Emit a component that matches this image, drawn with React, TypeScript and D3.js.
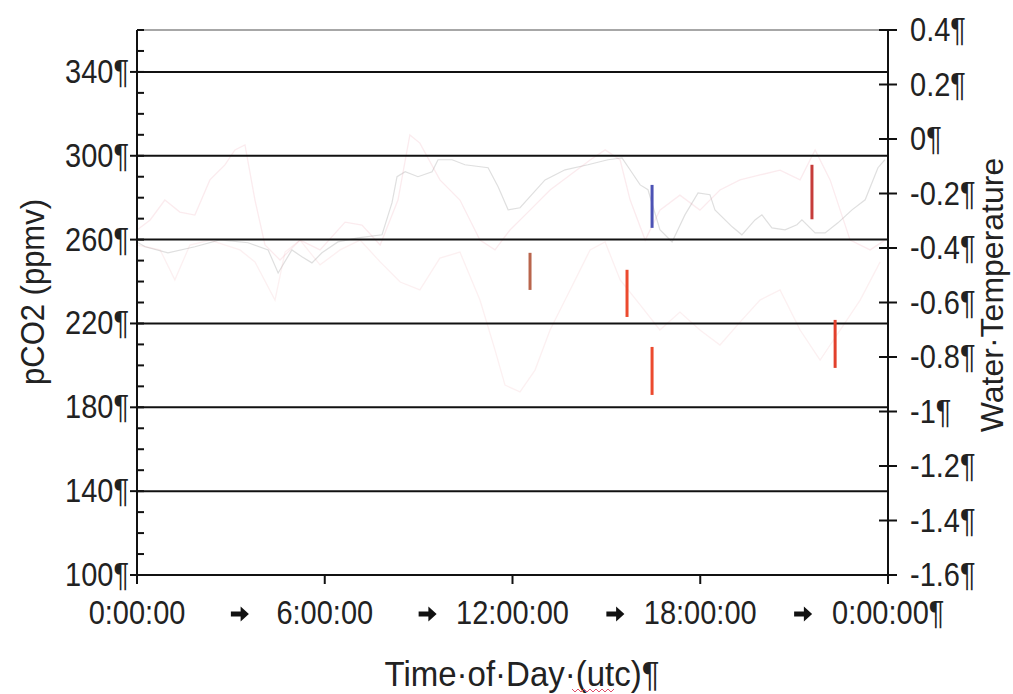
import React, { useEffect, useRef } from 'react';
import * as d3 from 'd3';

const width = 1013;
const height = 694;
const margin = { top: 30, right: 125, bottom: 119, left: 137 };

// pCO2 trace, hours of day vs ppmv
const co2Hours = [0, 0.26, 0.99, 1.85, 2.65, 3.55, 4.19, 4.51, 4.95, 5.27, 5.59, 5.91, 6.42, 7.06, 7.83, 8.15, 8.31, 8.57, 8.98, 9.43, 9.62, 10.07, 10.48, 11.22, 11.54, 11.86, 12.24, 13.04, 13.68, 14.41, 15.05, 15.5, 15.82, 16.08, 16.33, 16.71, 17.1, 17.51, 17.93, 18.31, 18.47, 19.02, 19.33, 19.75, 19.97, 20.29, 20.71, 21.09, 21.25, 21.67, 21.99, 22.4, 22.85, 23.27, 23.68, 23.9];
const co2Values = [258.9, 256.6, 253.7, 256.6, 259.9, 258.5, 255.1, 244.1, 255.1, 251.8, 248.9, 253.7, 258.9, 260.8, 262.3, 277.6, 290.0, 292.4, 290.0, 292.4, 298.1, 298.1, 295.7, 294.3, 285.2, 274.2, 275.2, 288.5, 293.3, 295.7, 298.1, 299.0, 291.9, 286.1, 283.8, 264.7, 258.9, 271.8, 282.3, 281.4, 274.2, 266.1, 262.3, 269.4, 271.8, 265.6, 264.7, 267.1, 269.4, 263.2, 263.2, 268.0, 274.2, 279.0, 294.3, 298.1];

// water temperature traces (faint), hours vs degrees
const tempHoursA = [0, 0.42, 0.89, 1.37, 1.85, 2.33, 2.81, 3.13, 3.45, 3.77, 4.09, 4.57, 5.21, 5.85, 6.65, 7.19, 7.77, 8.34, 8.72, 9.04, 9.68, 10.32, 10.96, 11.44, 11.92, 12.56, 13.2, 13.84, 14.48, 14.96, 15.44, 15.76, 16.24, 16.71, 17.35, 17.99, 18.63, 19.27, 19.91, 20.55, 21.19, 21.67, 22.15, 22.79, 23.43, 23.9];
const tempValuesA = [-0.334, -0.297, -0.224, -0.268, -0.279, -0.15, -0.095, -0.04, -0.022, -0.224, -0.389, -0.444, -0.371, -0.407, -0.305, -0.316, -0.389, -0.224, 0.015, -0.015, -0.15, -0.224, -0.371, -0.407, -0.334, -0.261, -0.187, -0.132, -0.077, -0.04, -0.077, -0.224, -0.371, -0.261, -0.206, -0.261, -0.187, -0.15, -0.132, -0.114, -0.15, -0.04, -0.15, -0.371, -0.407, -0.371];
const tempHoursB = [0, 0.74, 1.21, 1.69, 2.33, 3.29, 3.77, 4.41, 4.73, 5.21, 5.85, 6.49, 7.13, 7.77, 8.41, 9.04, 9.68, 10.32, 10.96, 11.44, 11.76, 12.24, 12.72, 13.2, 13.84, 14.48, 14.96, 15.44, 16.08, 16.71, 17.35, 17.99, 18.63, 19.27, 19.91, 20.55, 21.19, 21.83, 22.47, 23.11, 23.75];
const tempValuesB = [-0.389, -0.407, -0.517, -0.389, -0.371, -0.407, -0.451, -0.591, -0.415, -0.371, -0.462, -0.407, -0.371, -0.451, -0.525, -0.554, -0.437, -0.415, -0.591, -0.774, -0.903, -0.928, -0.848, -0.701, -0.554, -0.407, -0.378, -0.517, -0.609, -0.701, -0.635, -0.701, -0.756, -0.672, -0.591, -0.554, -0.701, -0.811, -0.701, -0.591, -0.451];

// highlighted spikes, hours vs ppmv range
const spikeHours = [12.56, 15.66, 16.46, 22.31, 16.46, 21.57];
const spikeLow = [236.0, 223.1, 185.9, 198.8, 265.6, 269.7];
const spikeHigh = [253.7, 245.6, 208.8, 221.7, 286.1, 295.7];
const spikeColors = ['#b9654c', '#ec4a2e', '#ec4a2e', '#e2402c', '#4c52b4', '#c63c3a'];

const timeTicks = [0, 6, 12, 18, 24];
const timeLabels = ['0:00:00', '6:00:00', '12:00:00', '18:00:00', '0:00:00¶'];
const co2Major = [100, 140, 180, 220, 260, 300, 340];
const tempTicks = [0.4, 0.2, 0, -0.2, -0.4, -0.6, -0.8, -1, -1.2, -1.4, -1.6];

const font = '"Liberation Sans", Arial, sans-serif';
const labelSize = 29;
const stretch = 1.15; // the source text is a bit taller than wide

const App = () => {
  const ref = useRef<SVGSVGElement>(null);

  useEffect(() => {
    const svg = d3.select(ref.current);
    svg.selectAll('*').remove();

    const x = d3.scaleLinear([0, 24], [margin.left, width - margin.right]);
    const yL = d3.scaleLinear([100, 360], [height - margin.bottom, margin.top]);
    const yR = d3.scaleLinear([-1.6, 0.4], [height - margin.bottom, margin.top]);

    // text helper: positioned by transform so it can be stretched
    function label(g, px, py, txt, anchor = 'start', size = labelSize, rot = 0, sy = stretch) {
      return g.append('text')
        .attr('transform', `translate(${px},${py}) rotate(${rot}) scale(1,${sy})`)
        .attr('text-anchor', anchor)
        .attr('font-family', font).attr('font-size', size).attr('fill', '#222')
        .text(txt);
    }

    svg.append('rect').attr('width', width).attr('height', height).attr('fill', 'white');

    // faint traces
    const lineL = d3.line<number>().x((d, i) => x(co2Hours[i])).y(d => yL(d));
    svg.append('path').attr('d', lineL(co2Values)).attr('fill', 'none')
      .attr('stroke', '#9a9a9a').attr('stroke-opacity', 0.32).attr('stroke-width', 1.2);

    const lineA = d3.line<number>().x((d, i) => x(tempHoursA[i])).y(d => yR(d));
    svg.append('path').attr('d', lineA(tempValuesA)).attr('fill', 'none')
      .attr('stroke', '#e88a98').attr('stroke-opacity', 0.17).attr('stroke-width', 1.3);

    const lineB = d3.line<number>().x((d, i) => x(tempHoursB[i])).y(d => yR(d));
    svg.append('path').attr('d', lineB(tempValuesB)).attr('fill', 'none')
      .attr('stroke', '#e89aa4').attr('stroke-opacity', 0.15).attr('stroke-width', 1.3);

    // grid lines
    svg.append('g').selectAll('line').data(co2Major.filter(v => v > 100)).join('line')
      .attr('x1', margin.left).attr('x2', width - margin.right)
      .attr('y1', d => yL(d)).attr('y2', d => yL(d))
      .attr('stroke', '#111').attr('stroke-width', 2);

    svg.append('line')
      .attr('x1', margin.left).attr('x2', width - margin.right)
      .attr('y1', margin.top).attr('y2', margin.top)
      .attr('stroke', '#8a8a8a').attr('stroke-width', 1.5);

    // spikes
    svg.append('g').selectAll('line').data(spikeHours).join('line')
      .attr('x1', d => x(d)).attr('x2', d => x(d))
      .attr('y1', (d, i) => yL(spikeLow[i])).attr('y2', (d, i) => yL(spikeHigh[i]))
      .attr('stroke', (d, i) => spikeColors[i]).attr('stroke-width', 3);

    // left axis
    const left = svg.append('g');
    left.append('line').attr('x1', margin.left).attr('x2', margin.left)
      .attr('y1', margin.top).attr('y2', height - margin.bottom)
      .attr('stroke', '#111').attr('stroke-width', 2);
    left.selectAll('line.minor').data(d3.range(100, 361, 10)).join('line')
      .attr('class', 'minor')
      .attr('x1', d => (d % 40 === 20 ? margin.left - 7 : margin.left)).attr('x2', margin.left + 7)
      .attr('y1', d => yL(d)).attr('y2', d => yL(d))
      .attr('stroke', '#111').attr('stroke-width', 2);
    co2Major.forEach(v => label(left, margin.left - 8, yL(v) + 11, `${v}¶`, 'end'));

    // right axis
    const xr = width - margin.right;
    const right = svg.append('g');
    right.append('line').attr('x1', xr).attr('x2', xr)
      .attr('y1', margin.top).attr('y2', height - margin.bottom)
      .attr('stroke', '#111').attr('stroke-width', 2);
    right.selectAll('line.tick').data(tempTicks).join('line')
      .attr('class', 'tick')
      .attr('x1', xr - 9).attr('x2', xr + 9)
      .attr('y1', d => yR(d)).attr('y2', d => yR(d))
      .attr('stroke', '#111').attr('stroke-width', 2);
    tempTicks.forEach(v => label(right, xr + 22, yR(v) + 11, `${+v.toFixed(1)}¶`));

    // bottom axis
    const yb = height - margin.bottom;
    const bottom = svg.append('g');
    bottom.append('line').attr('x1', margin.left).attr('x2', xr)
      .attr('y1', yb).attr('y2', yb).attr('stroke', '#111').attr('stroke-width', 2);
    bottom.selectAll('line.tick').data(timeTicks).join('line')
      .attr('class', 'tick')
      .attr('x1', d => x(d)).attr('x2', d => x(d))
      .attr('y1', yb).attr('y2', yb + 9)
      .attr('stroke', '#111').attr('stroke-width', 2);
    timeTicks.forEach((h, i) => {
      if (h === 24) label(bottom, x(h) - 56, 624, timeLabels[i]);
      else label(bottom, x(h), 624, timeLabels[i], 'middle');
    });
    // tab arrows between the labels
    bottom.selectAll('path.arrow').data(timeTicks.slice(0, 4)).join('path')
      .attr('class', 'arrow')
      .attr('transform', d => `translate(${x(d + 3) + 9},614) scale(1.5)`)
      .attr('d', 'M-6,-1.6L0.5,-1.6L0.5,-5L6,0L0.5,5L0.5,1.6L-6,1.6Z')
      .attr('fill', '#111');

    // titles
    label(svg, 522, 686, 'Time·of·Day·(utc)¶', 'middle', 33, 0, 1.05);
    svg.append('path')
      .attr('d', d3.range(0, 15).map((k, i) => `${i === 0 ? 'M' : 'L'}${572 + k * 3},${k % 2 ? 692 : 689}`).join(''))
      .attr('fill', 'none').attr('stroke', '#e0506a').attr('stroke-width', 1);

    label(svg, 44, 292, 'pCO2 (ppmv)', 'middle', 31, -90, 1.05);
    label(svg, 1003, 295, 'Water·Temperature', 'middle', 32, -90, 1.0);
  }, []);

  return (
    <svg ref={ref} width={width} height={height}
      style={{ position: 'absolute', left: 0, top: 0, display: 'block' }} />
  );
};

export default App;
